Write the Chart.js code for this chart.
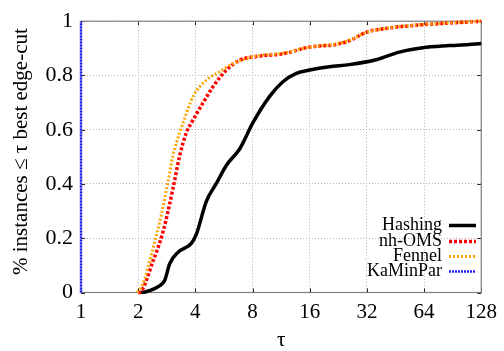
<!DOCTYPE html>
<html><head><meta charset="utf-8">
<script src="https://cdn.jsdelivr.net/npm/chart.js@4/dist/chart.umd.min.js"></script>
<style>html,body{margin:0;padding:0;background:#fff}#wrap{width:504px;height:351px}</style>
</head><body><div id="wrap"><canvas id="c" width="504" height="351"></canvas></div>
<script>
const xTicks = [1, 2, 4, 8, 16, 32, 64, 128];
const yTicks = [0, 0.2, 0.4, 0.6, 0.8, 1];
const seriesNames = ["Hashing", "nh-OMS", "Fennel", "KaMinPar"];

const hashingTau = [2.05, 2.17, 2.6, 2.76, 2.93, 3.24, 3.82, 4.05, 4.57, 5.16, 5.83, 6.84, 8.04, 9.84, 11.56, 13.59, 16, 20.3, 25.9, 35.8, 47.4, 62.9, 86.8, 124.8, 128];
const hashingVal = [0, 0.002, 0.025, 0.045, 0.106, 0.148, 0.182, 0.215, 0.336, 0.402, 0.469, 0.529, 0.626, 0.723, 0.777, 0.808, 0.82, 0.832, 0.84, 0.858, 0.886, 0.902, 0.91, 0.917, 0.918];

const nhomsTau = [2.0, 2.02, 2.4, 2.71, 3.05, 3.31, 3.59, 3.82, 4.39, 4.96, 5.83, 6.84, 8.38, 11.56, 16, 22, 25.9, 31.7, 42, 62.9, 86.8, 128];
const nhomsVal = [0, 0, 0.118, 0.227, 0.384, 0.505, 0.59, 0.626, 0.699, 0.759, 0.82, 0.856, 0.870, 0.88, 0.905, 0.914, 0.928, 0.959, 0.975, 0.987, 0.993, 1.0];

const fennelTau = [1.98, 2.12, 2.4, 2.65, 2.87, 3.05, 3.31, 3.45, 3.89, 4.57, 5.37, 6.31, 8.38, 11.56, 16, 22, 25.9, 31.7, 42, 62.9, 86.8, 128];
const fennelVal = [0, 0.033, 0.166, 0.287, 0.408, 0.505, 0.59, 0.626, 0.723, 0.783, 0.814, 0.844, 0.872, 0.882, 0.905, 0.916, 0.93, 0.958, 0.976, 0.988, 0.994, 1.0];

const kaminparTau = [1, 1];
const kaminparVal = [0, 1];

const pts = (xs, ys) => xs.map((x, i) => ({x: x, y: ys[i]}));
const SERIF = "'Liberation Serif', 'DejaVu Serif', serif";

const styles = [
  {color: '#000000', width: 3.5, dash: [], mode: 'monotone'},
  {color: '#ff0000', width: 3.5, dash: [3, 2], mode: 'monotone'},
  {color: '#ffa500', width: 3, dash: [2, 2], mode: 'monotone'},
  {color: '#1f1fff', width: 2.5, dash: [2, 1], mode: 'default'}
];

const framePlugin = {
  id: 'frame',
  beforeDatasetsDraw(chart) {
    const {ctx, chartArea: a, scales} = chart;
    ctx.save();
    ctx.strokeStyle = '#222';
    ctx.lineWidth = 1;
    xTicks.forEach(v => {
      const px = Math.round(scales.x.getPixelForValue(v)) + 0.5;
      ctx.beginPath(); ctx.moveTo(px, a.bottom); ctx.lineTo(px, a.bottom - 4); ctx.stroke();
      ctx.beginPath(); ctx.moveTo(px, a.top); ctx.lineTo(px, a.top + 4); ctx.stroke();
    });
    yTicks.forEach(v => {
      const py = Math.round(scales.y.getPixelForValue(v)) + 0.5;
      ctx.beginPath(); ctx.moveTo(a.left, py); ctx.lineTo(a.left + 4, py); ctx.stroke();
      ctx.beginPath(); ctx.moveTo(a.right, py); ctx.lineTo(a.right - 4, py); ctx.stroke();
    });
    ctx.strokeStyle = '#808080';
    ctx.lineWidth = 1.2;
    ctx.strokeRect(a.left, a.top, a.right - a.left, a.bottom - a.top);
    ctx.restore();
  },
  afterDatasetsDraw(chart) {
    const {ctx} = chart;
    ctx.save();
    ctx.font = "18px " + SERIF;
    ctx.textAlign = 'right';
    ctx.textBaseline = 'middle';
    const rows = [225, 241, 256, 271];
    seriesNames.forEach((n, i) => {
      ctx.fillStyle = '#000';
      ctx.fillText(n, 442, rows[i]);
      const s = styles[i];
      ctx.strokeStyle = s.color;
      ctx.lineWidth = s.width;
      ctx.setLineDash(s.dash);
      ctx.beginPath(); ctx.moveTo(449, rows[i] + 0.5); ctx.lineTo(476, rows[i] + 0.5); ctx.stroke();
      ctx.setLineDash([]);
    });
    ctx.restore();
  }
};

const data = [pts(hashingTau, hashingVal), pts(nhomsTau, nhomsVal), pts(fennelTau, fennelVal), pts(kaminparTau, kaminparVal)];

new Chart(document.getElementById('c'), {
  type: 'line',
  data: {
    datasets: seriesNames.map((n, i) => ({
      label: n,
      data: data[i],
      borderColor: styles[i].color,
      borderWidth: styles[i].width,
      borderDash: styles[i].dash,
      pointRadius: 0,
      fill: false,
      tension: 0,
      cubicInterpolationMode: styles[i].mode,
      order: 4 - i,
      clip: 6
    }))
  },
  options: {
    responsive: false,
    devicePixelRatio: 1,
    animation: false,
    layout: {padding: {top: 17, right: 21, left: 0, bottom: 0}},
    plugins: {legend: {display: false}, tooltip: {enabled: false}},
    scales: {
      x: {
        type: 'logarithmic',
        min: 1, max: 128,
        afterBuildTicks: s => { s.ticks = xTicks.map(v => ({value: v})); },
        afterFit: s => { s.height = 58.5; },
        ticks: {callback: v => String(v), font: {family: SERIF, size: 21}, color: '#000', padding: 7, maxRotation: 0, autoSkip: false},
        grid: {color: '#b4b4b4', lineWidth: 1, drawTicks: false},
        border: {display: false, dash: [1, 2]},
        title: {display: true, text: 'τ', font: {family: SERIF, size: 21, lineHeight: 1}, color: '#000', padding: {top: 0, bottom: 0}}
      },
      y: {
        min: 0, max: 1,
        afterBuildTicks: s => { s.ticks = yTicks.map(v => ({value: v})); },
        afterFit: s => { s.width = 81; },
        ticks: {callback: v => String(v), font: {family: SERIF, size: 22}, color: '#000', padding: 8},
        grid: {color: '#b4b4b4', lineWidth: 1, drawTicks: false},
        border: {display: false, dash: [1, 2]},
        title: {display: true, text: '\u2002% instances ≤ τ best edge-cut', font: {family: SERIF, size: 21}, color: '#000', padding: {top: 9, bottom: 0}}
      }
    }
  },
  plugins: [framePlugin]
});
</script>
</body></html>
